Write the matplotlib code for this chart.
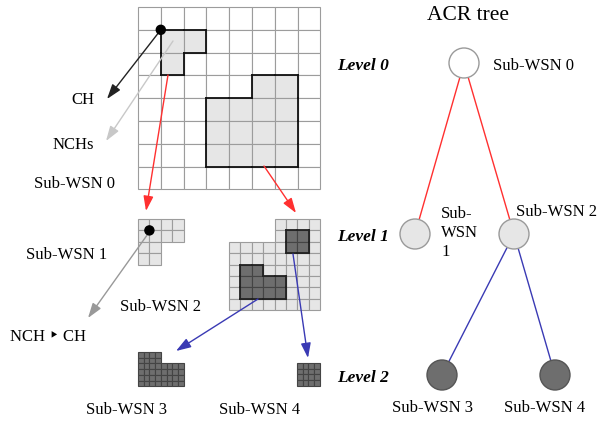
import matplotlib
matplotlib.use("Agg")
import matplotlib.pyplot as plt
from matplotlib.patches import Rectangle, Circle, FancyArrowPatch

plt.rcParams['font.family'] = ['Liberation Serif', 'DejaVu Sans']

# grid layout of the top-level WSN (8 x 8 cells)
n_cols, n_rows = 8, 8
# sub-WSN regions given as (col, row) cells
region_a = [(1, 1), (2, 1), (1, 2)]                       # Sub-WSN 1 (level 0 cells)
region_b = [(5, 3), (6, 3),
            (3, 4), (4, 4), (5, 4), (6, 4),
            (3, 5), (4, 5), (5, 5), (6, 5),
            (3, 6), (4, 6), (5, 6), (6, 6)]               # Sub-WSN 2 (level 0 cells)
region_c = [(5, 1), (6, 1), (5, 2), (6, 2)]               # Sub-WSN 4 (half cells of Sub-WSN 2)
region_d = [(1, 4), (2, 4), (1, 5), (2, 5), (1, 6), (2, 6),
            (3, 5), (4, 5), (3, 6), (4, 6)]               # Sub-WSN 3 (half cells of Sub-WSN 2)

# ACR tree
tree_names = ['Sub-WSN 0', 'Sub-WSN 1', 'Sub-WSN 2', 'Sub-WSN 3', 'Sub-WSN 4']
tree_level = [0, 1, 1, 2, 2]
tree_parent = [None, 0, 0, 2, 2]
level_labels = ['Level 0', 'Level 1', 'Level 2']

GRID = '#9c9c9c'
LIGHT = '#e6e6e6'
DARK = '#6e6e6e'
RED = '#ff3030'
BLUE = '#3a3ab4'
CELL = 22.8


def shift(cells):
    c0 = min(c for c, r in cells)
    r0 = min(r for c, r in cells)
    return [(c - c0, r - r0) for c, r in cells]


def draw_cells(ax, cells, ox, oy, size, sub=1, face='white', edge=GRID, lw=0.8,
               outline=None, olw=1.3):
    s = size / sub
    for c, r in cells:
        for i in range(sub):
            for j in range(sub):
                ax.add_patch(Rectangle((ox + c * size + i * s, oy + r * size + j * s), s, s,
                                       fc=face, ec=edge, lw=lw, zorder=2))
    if outline:
        cs = set(cells)
        for c, r in cells:
            x, y = ox + c * size, oy + r * size
            kw = dict(color=outline, lw=olw, zorder=3, solid_capstyle='projecting')
            if (c, r - 1) not in cs:
                ax.plot([x, x + size], [y, y], **kw)
            if (c, r + 1) not in cs:
                ax.plot([x, x + size], [y + size, y + size], **kw)
            if (c - 1, r) not in cs:
                ax.plot([x, x], [y, y + size], **kw)
            if (c + 1, r) not in cs:
                ax.plot([x + size, x + size], [y, y + size], **kw)


def arrow(ax, p0, p1, color, lw=1.0):
    ax.add_patch(FancyArrowPatch(p0, p1, arrowstyle='-|>,head_length=0.9,head_width=0.3',
                                 mutation_scale=10, color=color, lw=lw, zorder=5,
                                 shrinkA=0, shrinkB=0))


fig = plt.figure(figsize=(6.07, 4.21), dpi=100)
ax = fig.add_axes([0, 0, 1, 1])
ax.set_xlim(0, 607)
ax.set_ylim(421, 0)
ax.axis('off')

# level 0 grid
gx, gy = 138, 7
all_cells = [(c, r) for c in range(n_cols) for r in range(n_rows)]
draw_cells(ax, all_cells, gx, gy, CELL)
draw_cells(ax, region_a, gx, gy, CELL, face=LIGHT, outline='#111111')
draw_cells(ax, region_b, gx, gy, CELL, face=LIGHT, outline='#111111')
ch = (gx + CELL, gy + CELL)
ax.add_patch(Circle(ch, 4.5, color='black', zorder=6))

# level 1
s1 = shift(region_a)
draw_cells(ax, s1, 138, 219, CELL, sub=2, face=LIGHT)
ax.add_patch(Circle((138 + CELL / 2, 219 + CELL / 2), 4.5, color='black', zorder=6))
s2 = shift(region_b)
draw_cells(ax, s2, 229, 219, CELL, sub=2, face=LIGHT)
draw_cells(ax, region_c, 229, 219, CELL / 2, face=DARK, edge='#444444', outline='#222222')
draw_cells(ax, region_d, 229, 219, CELL / 2, face=DARK, edge='#444444', outline='#222222')

# level 2
draw_cells(ax, shift(region_d), 138, 352, CELL / 2, sub=2, face=DARK, edge='#444444')
draw_cells(ax, shift(region_c), 297, 363, CELL / 2, sub=2, face=DARK, edge='#444444')

# arrows
arrow(ax, ch, (107, 99), '#222222')
arrow(ax, (173, 41), (106, 141), '#c8c8c8')
arrow(ax, (168, 75), (146, 211), RED)
arrow(ax, (264, 166), (296, 213), RED)
arrow(ax, (150, 231), (88, 318), '#999999')
arrow(ax, (258, 299), (176, 351), BLUE)
arrow(ax, (293, 254), (308, 358), BLUE)

fs = 12
ax.text(83, 100, 'CH', fontsize=fs, ha='center', va='center')
ax.text(73, 145, 'NCHs', fontsize=fs, ha='center', va='center')
ax.text(75, 184, 'Sub-WSN 0', fontsize=fs, ha='center', va='center')
ax.text(67, 255, 'Sub-WSN 1', fontsize=fs, ha='center', va='center')
ax.text(160, 307, 'Sub-WSN 2', fontsize=fs, ha='center', va='center')
ax.text(48, 337, 'NCH \u2023 CH', fontsize=fs, ha='center', va='center')
ax.text(127, 410, 'Sub-WSN 3', fontsize=fs, ha='center', va='center')
ax.text(260, 410, 'Sub-WSN 4', fontsize=fs, ha='center', va='center')

# ACR tree
ax.text(468, 15, 'ACR tree', fontsize=15.5, ha='center', va='center')
level_y = [63, 234, 375]
node_x = [464, 415, 514, 442, 555]
node_fill = ['white', LIGHT, LIGHT, DARK, DARK]
node_edge = ['#9a9a9a', '#9a9a9a', '#9a9a9a', '#555555', '#555555']
for i, p in enumerate(tree_parent):
    if p is None:
        continue
    col = RED if tree_level[p] == 0 else BLUE
    ax.plot([node_x[p], node_x[i]], [level_y[tree_level[p]], level_y[tree_level[i]]],
            color=col, lw=1.0, zorder=2)
for i in range(len(tree_names)):
    ax.add_patch(Circle((node_x[i], level_y[tree_level[i]]), 15, fc=node_fill[i],
                        ec=node_edge[i], lw=1.0, zorder=3))
for k, lab in enumerate(level_labels):
    ax.text(337, level_y[k] + 3, lab, fontsize=12.5, style='italic', weight='bold',
            ha='left', va='center')

ax.text(493, 66, tree_names[0], fontsize=fs, ha='left', va='center')
ax.text(441, 233, 'Sub-\nWSN\n1', fontsize=fs, ha='left', va='center', linespacing=1.25)
ax.text(557, 212, tree_names[2], fontsize=fs, ha='center', va='center')
ax.text(433, 408, tree_names[3], fontsize=fs, ha='center', va='center')
ax.text(545, 408, tree_names[4], fontsize=fs, ha='center', va='center')

fig.savefig('out.png', dpi=100)
